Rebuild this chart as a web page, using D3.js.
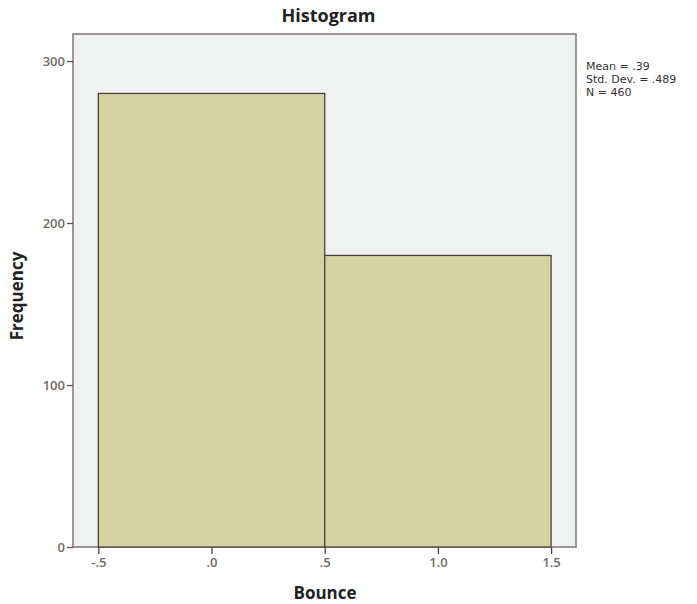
<!DOCTYPE html>
<html><head><meta charset="utf-8">
<script src="https://cdn.jsdelivr.net/npm/d3@7"></script>
<style>body{margin:0;background:#fff}svg{display:block}</style>
</head><body>
<svg id="c" width="697" height="604"></svg>
<script>
const binStarts = [-0.5, 0.5];
const binEnds = [0.5, 1.5];
const frequencies = [280, 180];
const xTicks = [-0.5, 0, 0.5, 1.0, 1.5];
const xTickLabels = ["-.5", ".0", ".5", "1.0", "1.5"];
const yTicks = [0, 100, 200, 300];
const statsLines = ["Mean = .39", "Std. Dev. = .489", "N = 460"];

const svg = d3.select("#c");
const font = "'Open Sans', 'DejaVu Sans', sans-serif";
const L = 73, R = 576, T = 34, B = 547;
const x = d3.scaleLinear().domain([-0.612, 1.61]).range([L, R]);
const y = d3.scaleLinear().domain([0, 316.7]).range([B, T]);

svg.append("rect").attr("x", L).attr("y", T).attr("width", R - L).attr("height", B - T)
  .attr("fill", "#f0f1f1").attr("stroke", "#7d7575").attr("stroke-width", 1.5);

svg.selectAll("rect.bar").data(frequencies).join("rect").attr("class", "bar")
  .attr("x", (d, i) => x(binStarts[i]))
  .attr("width", (d, i) => x(binEnds[i]) - x(binStarts[i]))
  .attr("y", d => y(d))
  .attr("height", d => B - y(d))
  .attr("fill", "#d6d2a2").attr("stroke", "#4a4242").attr("stroke-width", 1.3);

const xAxis = d3.axisBottom(x).tickValues(xTicks).tickFormat((d, i) => xTickLabels[i]).tickSize(7).tickPadding(4);
const gx = svg.append("g").attr("transform", `translate(0,${B})`).call(xAxis);
gx.select(".domain").remove();
gx.selectAll(".tick line").attr("stroke", "#4a4242").attr("stroke-width", 1.3);
gx.selectAll("text").attr("fill", "#6f6a6a").attr("font-family", font).attr("font-size", 13).attr("font-weight", 600);

const yAxis = d3.axisLeft(y).tickValues(yTicks).tickFormat(d3.format("d")).tickSize(6).tickPadding(2);
const gy = svg.append("g").attr("transform", `translate(${L},0)`).call(yAxis);
gy.select(".domain").remove();
gy.selectAll(".tick line").attr("stroke", "#5a5252").attr("stroke-width", 1.3);
gy.selectAll("text").attr("fill", "#6f6a6a").attr("font-family", font).attr("font-size", 13).attr("font-weight", 600);

svg.append("text").attr("x", (L + R) / 2 + 4).attr("y", 22).attr("text-anchor", "middle")
  .attr("font-family", font).attr("font-weight", "bold").attr("font-size", 18).attr("fill", "#222")
  .text("Histogram");
svg.append("text").attr("x", 325).attr("y", 599).attr("text-anchor", "middle")
  .attr("font-family", font).attr("font-weight", "bold").attr("font-size", 17).attr("fill", "#222")
  .text("Bounce");
svg.append("text").attr("transform", "translate(23,296) rotate(-90)").attr("text-anchor", "middle")
  .attr("font-family", font).attr("font-weight", "bold").attr("font-size", 17).attr("fill", "#222")
  .text("Frequency");

svg.selectAll("text.stat").data(statsLines).join("text").attr("class", "stat")
  .attr("x", 586).attr("y", (d, i) => 70 + i * 13)
  .attr("font-family", "'DejaVu Sans', sans-serif").attr("font-size", 11).attr("fill", "#333")
  .text(d => d);
</script>
</body></html>
